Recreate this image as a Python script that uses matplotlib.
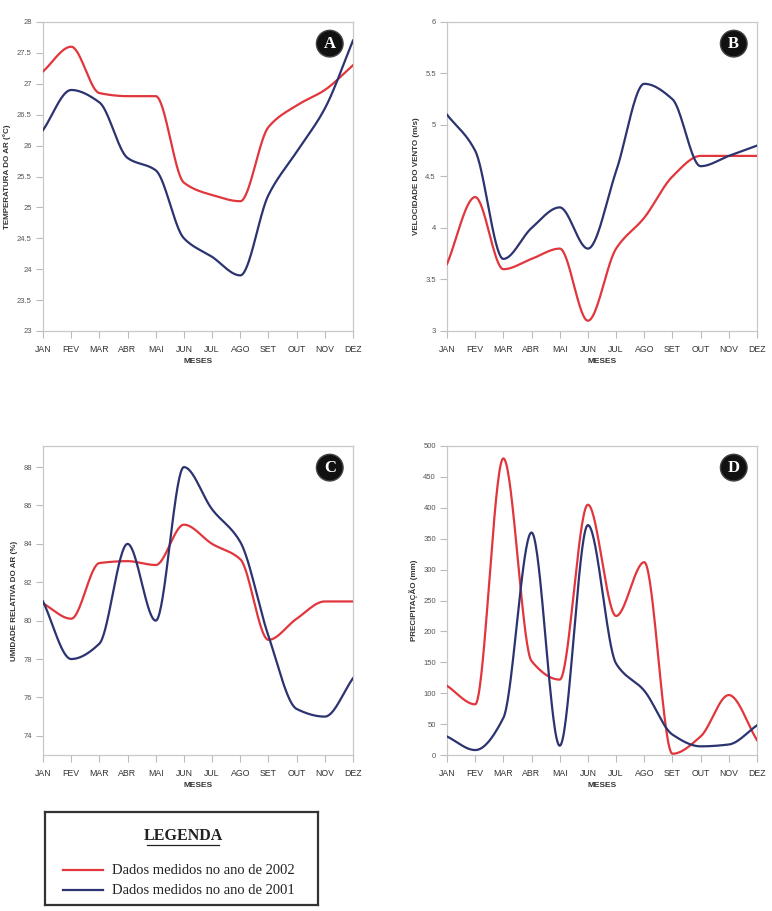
import numpy as np
import matplotlib
matplotlib.use("Agg")
import matplotlib.pyplot as plt
from matplotlib.patches import Ellipse

meses = ["JAN", "FEV", "MAR", "ABR", "MAI", "JUN", "JUL", "AGO", "SET", "OUT", "NOV", "DEZ"]

# A - temperatura do ar (C)
temp_2002 = [27.2, 27.6, 26.85, 26.8, 26.8, 25.4, 25.2, 25.1, 26.3, 26.65, 26.9, 27.3]
temp_2001 = [26.25, 26.9, 26.7, 25.8, 25.6, 24.5, 24.2, 23.9, 25.2, 25.9, 26.6, 27.7]

# B - velocidade do vento (m/s)
vento_2002 = [3.65, 4.3, 3.6, 3.7, 3.8, 3.1, 3.8, 4.1, 4.5, 4.7, 4.7, 4.7]
vento_2001 = [5.1, 4.75, 3.7, 4.0, 4.2, 3.8, 4.55, 5.4, 5.25, 4.6, 4.7, 4.8]

# C - umidade relativa (%)
umid_2002 = [80.9, 80.1, 83.0, 83.1, 82.9, 85.0, 84.0, 83.2, 79.0, 80.1, 81.0, 81.0]
umid_2001 = [81.0, 78.0, 78.8, 84.0, 80.0, 88.0, 85.8, 84.1, 79.2, 75.4, 75.0, 77.0]

# D - precipitacao (mm)
prec_2002 = [112, 82, 480, 152, 122, 405, 225, 312, 2, 30, 97, 24]
prec_2001 = [30, 8, 60, 360, 15, 372, 148, 104, 33, 14, 17, 48]

RED = "#e0363c"
BLUE = "#2b3470"


def pchip(x, y, n=400):
	# monotone cubic (Fritsch-Carlson) so the curves look like the original smooth lines
	x = np.asarray(x, float)
	y = np.asarray(y, float)
	h = np.diff(x)
	d = np.diff(y) / h
	m = np.zeros_like(y)
	for k in range(1, len(y) - 1):
		if d[k-1] * d[k] > 0:
			w1 = 2*h[k] + h[k-1]
			w2 = h[k] + 2*h[k-1]
			m[k] = (w1 + w2) / (w1/d[k-1] + w2/d[k])
	m[0] = d[0]
	m[-1] = d[-1]
	xs = np.linspace(x[0], x[-1], n)
	idx = np.clip(np.searchsorted(x, xs) - 1, 0, len(x) - 2)
	t = (xs - x[idx]) / h[idx]
	h00 = 2*t**3 - 3*t**2 + 1
	h10 = t**3 - 2*t**2 + t
	h01 = -2*t**3 + 3*t**2
	h11 = t**3 - t**2
	ys = h00*y[idx] + h10*h[idx]*m[idx] + h01*y[idx+1] + h11*h[idx]*m[idx+1]
	return xs, ys


def panel(fig, rect, s2002, s2001, ylim, yticks, yfmt, ylabel, letter):
	ax = fig.add_axes(rect)
	x = np.arange(len(meses))
	xs, ys = pchip(x, s2002)
	ax.plot(xs, ys, color=RED, lw=1.6, zorder=3)
	xs, ys = pchip(x, s2001)
	ax.plot(xs, ys, color=BLUE, lw=1.6, zorder=3)
	ax.set_xlim(0, 11)
	ax.set_ylim(*ylim)
	ax.set_xticks(x)
	ax.set_xticklabels(meses, fontsize=6.3, color="#333333", family="Liberation Sans")
	ax.set_yticks(yticks)
	ax.set_yticklabels([yfmt % v for v in yticks], fontsize=5.5, color="#555555", family="Liberation Sans")
	ax.tick_params(axis="both", direction="out", length=5, width=0.8, color="#bbbbbb", pad=3)
	ax.tick_params(axis="x", pad=5)
	for s in ax.spines.values():
		s.set_color("#c8c8c8")
		s.set_linewidth(0.9)
	ax.set_xlabel("MESES", fontsize=6, fontweight="bold", color="#333333", family="Liberation Sans", labelpad=3)
	ax.set_ylabel(ylabel, fontsize=5.8, fontweight="bold", color="#333333", family="Liberation Sans", labelpad=4)
	# round badge with the panel letter
	bb = ax.get_position()
	ratio = (bb.width * 7.72) / (bb.height * 9.11)
	c = Ellipse((0.925, 0.93), 0.086, 0.086 * ratio, transform=ax.transAxes,
		facecolor="#111111", edgecolor="#444444", zorder=5)
	ax.add_patch(c)
	ax.text(0.925, 0.928, letter, transform=ax.transAxes, ha="center", va="center", color="white",
		fontsize=12, fontweight="bold", family="Liberation Serif", zorder=6)
	return ax


fig = plt.figure(figsize=(7.72, 9.11), dpi=100)

W = 310/772
H = 309/911
panel(fig, [43/772, 1 - 331/911, W, H], temp_2002, temp_2001, (23, 28),
	np.arange(23, 28.01, 0.5), "%g", "TEMPERATURA DO AR (°C)", "A")
panel(fig, [447/772, 1 - 331/911, W, H], vento_2002, vento_2001, (3, 6),
	np.arange(3, 6.01, 0.5), "%g", "VELOCIDADE DO VENTO (m/s)", "B")
panel(fig, [43/772, 1 - 755/911, W, H], umid_2002, umid_2001, (73, 89.1),
	np.arange(74, 88.1, 2), "%d", "UMIDADE RELATIVA DO AR (%)", "C")
panel(fig, [447/772, 1 - 755/911, W, H], prec_2002, prec_2001, (0, 500),
	np.arange(0, 501, 50), "%d", "PRECIPITAÇÃO (mm)", "D")

# legend box
lg = fig.add_axes([45/772, 1 - 905/911, 273/772, 93/911])
lg.set_xlim(0, 273)
lg.set_ylim(93, 0)
lg.set_xticks([])
lg.set_yticks([])
for s in lg.spines.values():
	s.set_color("#333333")
	s.set_linewidth(1.6)
lg.text(138, 24, "LEGENDA", ha="center", va="center", fontsize=11.5, fontweight="bold",
	family="Liberation Serif", color="#222222")
lg.plot([102, 174], [33, 33], color="#222222", lw=0.9)
lg.plot([18, 58], [58, 58], color=RED, lw=1.6)
lg.plot([18, 58], [78, 78], color=BLUE, lw=1.6)
lg.text(67, 58, "Dados medidos no ano de 2002", va="center", fontsize=10.5,
	family="Liberation Serif", color="#222222")
lg.text(67, 78, "Dados medidos no ano de 2001", va="center", fontsize=10.5,
	family="Liberation Serif", color="#222222")

plt.savefig("out.png", dpi=100)
